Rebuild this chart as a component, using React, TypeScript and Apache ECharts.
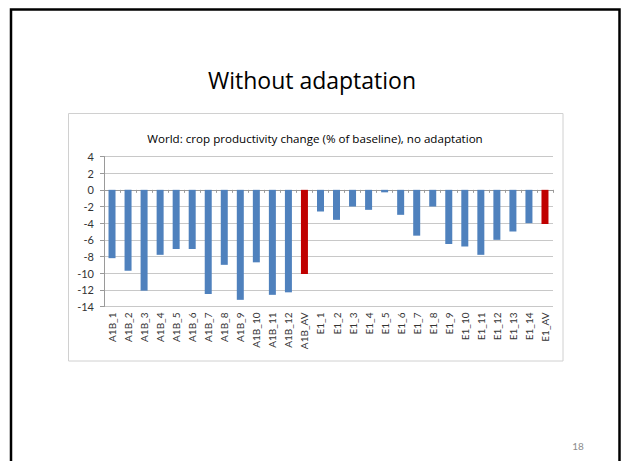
import React, { useEffect, useRef } from "react";
import * as echarts from "echarts";

const categories = [
  "A1B_1", "A1B_2", "A1B_3", "A1B_4", "A1B_5", "A1B_6", "A1B_7", "A1B_8", "A1B_9",
  "A1B_10", "A1B_11", "A1B_12", "A1B_AV",
  "E1_1", "E1_2", "E1_3", "E1_4", "E1_5", "E1_6", "E1_7", "E1_8", "E1_9", "E1_10",
  "E1_11", "E1_12", "E1_13", "E1_14", "E1_AV",
];
const values = [
  -8.2, -9.7, -12.1, -7.8, -7.1, -7.1, -12.5, -9.0, -13.2, -8.7, -12.6, -12.3, -10.1,
  -2.6, -3.6, -2.0, -2.4, -0.3, -3.0, -5.5, -2.0, -6.5, -6.8, -7.8, -6.0, -5.0, -4.0, -4.1,
];
const averageCategories = ["A1B_AV", "E1_AV"];
const slideTitle = "Without adaptation";
const chartTitle = "World: crop productivity change (% of baseline), no adaptation";
const pageNumber = "18";

const FONT = "Lato, 'Open Sans', sans-serif";
const TITLE_FONT = "'Open Sans', 'Noto Sans', sans-serif";
const BLUE = "#4f81bd";
const RED = "#c00000";

export default function App() {
  const ref = useRef<HTMLDivElement>(null);
  useEffect(() => {
    if (!ref.current) return;
    const chart = echarts.init(ref.current, null, { renderer: "svg" });
    const data = values.map((v, i) => ({
      value: v,
      itemStyle: { color: averageCategories.includes(categories[i]) ? RED : BLUE },
    }));
    chart.setOption({
      animation: false,
      backgroundColor: "#ffffff",
      graphic: [
        {
          type: "rect",
          z: -10,
          shape: { x: 11, y: 9.5, width: 608.5, height: 470 },
          style: { fill: "none", stroke: "#000000", lineWidth: 2.5 },
        },
        {
          type: "rect",
          z: -10,
          shape: { x: 68.5, y: 113.5, width: 494.5, height: 247.5 },
          style: { fill: "none", stroke: "#d0d0d0", lineWidth: 1 },
        },
        {
          type: "text",
          x: 312,
          y: 80,
          style: {
            text: slideTitle,
            fontFamily: TITLE_FONT,
            fontSize: 23,
            fill: "#000000",
            textAlign: "center",
            textVerticalAlign: "middle",
          },
        },
        {
          type: "text",
          x: 315,
          y: 138,
          style: {
            text: chartTitle,
            fontFamily: TITLE_FONT,
            fontSize: 11.6,
            fill: "#000000",
            textAlign: "center",
            textVerticalAlign: "middle",
          },
        },
        {
          type: "text",
          x: 578,
          y: 446,
          style: {
            text: pageNumber,
            fontFamily: FONT,
            fontSize: 10,
            fill: "#8c8c8c",
            textAlign: "center",
            textVerticalAlign: "middle",
          },
        },
      ],
      grid: { left: 104, right: 68, top: 156.5, bottom: 154.5, containLabel: false },
      xAxis: [
        {
          type: "category",
          data: categories,
          position: "bottom",
          axisLine: { show: false, onZero: false },
          axisTick: { show: false },
          axisLabel: {
            rotate: 90,
            interval: 0,
            fontSize: 10,
            fontFamily: FONT,
            color: "#333333",
            margin: 6,
          },
        },
        {
          type: "category",
          data: categories,
          position: "bottom",
          axisLine: { show: true, onZero: true, lineStyle: { color: "#9a9a9a", width: 1 } },
          axisTick: { show: true, length: 3, interval: 0, lineStyle: { color: "#9a9a9a" } },
          axisLabel: { show: false },
        },
      ],
      yAxis: {
        type: "value",
        min: -14,
        max: 4,
        interval: 2,
        axisLine: { show: true, lineStyle: { color: "#9a9a9a" } },
        axisTick: { show: true, length: 4, lineStyle: { color: "#9a9a9a" } },
        splitLine: { show: true, lineStyle: { color: "#c8c8c8", width: 1 } },
        axisLabel: { fontSize: 11, fontFamily: FONT, color: "#333333", margin: 10 },
      },
      series: [
        {
          type: "bar",
          xAxisIndex: 0,
          data,
          barWidth: 7,
          z: 3,
        },
      ],
    });
    return () => chart.dispose();
  }, []);
  return (
    <div
      ref={ref}
      style={{ position: "fixed", left: 0, top: 0, width: 621, height: 461 }}
    />
  );
}
